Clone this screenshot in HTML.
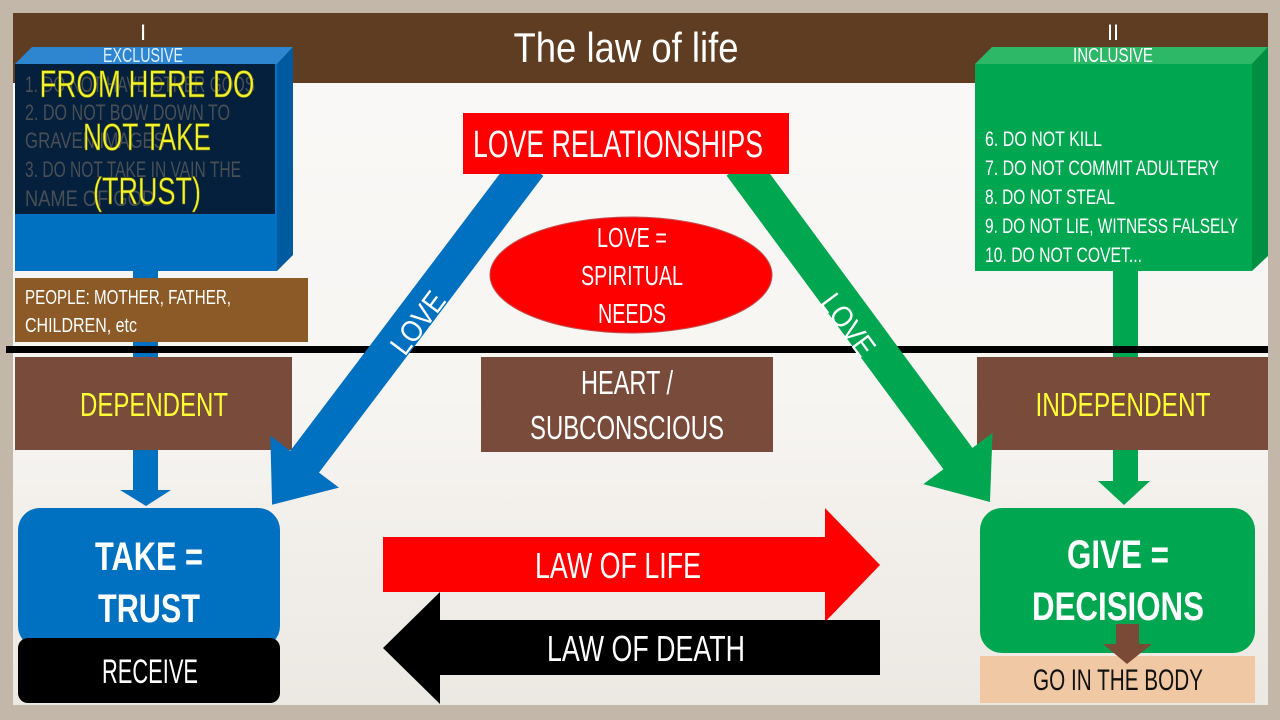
<!DOCTYPE html>
<html><head><meta charset="utf-8"><style>
html,body{margin:0;padding:0;background:#c8bdb2}
svg{display:block}
text{font-family:"Liberation Sans Narrow","Liberation Sans",sans-serif}
</style></head><body>
<svg width="1280" height="720" viewBox="0 0 1280 720" xmlns="http://www.w3.org/2000/svg">
<defs>
<linearGradient id="bg" x1="0" y1="0" x2="0" y2="1">
<stop offset="0" stop-color="#faf9f7"/><stop offset="0.55" stop-color="#f7f5f2"/><stop offset="1" stop-color="#ece8e2"/>
</linearGradient>
</defs>
<rect x="0" y="0" width="1280" height="720" fill="#c3b7aa"/>
<rect x="13" y="13" width="1255" height="692" fill="url(#bg)"/>
<rect x="13" y="13" width="1255" height="70" fill="#5e3d22"/>
<text x="626" y="62" font-size="42" fill="#fff" text-anchor="middle" textLength="225" lengthAdjust="spacingAndGlyphs">The law of life</text>
<text x="143" y="40" font-size="22" fill="#fff" text-anchor="middle">I</text>
<text x="1113" y="40" font-size="22" fill="#fff" text-anchor="middle" textLength="12" lengthAdjust="spacingAndGlyphs">II</text>

<!-- left blue box -->
<rect x="133" y="268" width="25" height="90" fill="#0070c0"/>
<polygon points="15,64 32,47 293,47 277,64" fill="#2e86d0"/>
<polygon points="277,64 293,47 293,255 277,271" fill="#005aa0"/>
<rect x="15" y="64" width="262" height="207" fill="#0070c0"/>
<rect x="15" y="64" width="260" height="150" fill="#04203d"/>
<text x="143" y="62" font-size="20" fill="#dff0ff" text-anchor="middle" textLength="80" lengthAdjust="spacingAndGlyphs">EXCLUSIVE</text>
<g font-size="22" fill="#4a4f55">
<text x="25" y="92" textLength="230" lengthAdjust="spacingAndGlyphs">1. DO NOT HAVE OTHER GODS</text>
<text x="25" y="120" textLength="205" lengthAdjust="spacingAndGlyphs">2. DO NOT BOW DOWN TO</text>
<text x="25" y="148" textLength="140" lengthAdjust="spacingAndGlyphs">GRAVEN IMAGES</text>
<text x="25" y="177" textLength="216" lengthAdjust="spacingAndGlyphs">3. DO NOT TAKE IN VAIN THE</text>
<text x="25" y="206" textLength="130" lengthAdjust="spacingAndGlyphs">NAME OF GOD</text>
</g>
<g font-size="38" fill="#f2f230" stroke="#7a7a00" stroke-width="0.6" text-anchor="middle">
<text x="147" y="97" textLength="215" lengthAdjust="spacingAndGlyphs">FROM HERE DO</text>
<text x="147" y="150" textLength="128" lengthAdjust="spacingAndGlyphs">NOT TAKE</text>
<text x="147" y="204" textLength="108" lengthAdjust="spacingAndGlyphs">(TRUST)</text>
</g>
<rect x="15" y="278" width="293" height="64" fill="#8b5a27"/>
<text x="25" y="304" font-size="20" fill="#fff" textLength="206" lengthAdjust="spacingAndGlyphs">PEOPLE: MOTHER, FATHER,</text>
<text x="25" y="332" font-size="20" fill="#fff" textLength="112" lengthAdjust="spacingAndGlyphs">CHILDREN, etc</text>

<!-- right green box -->
<rect x="1113" y="268" width="25" height="90" fill="#00a650"/>
<polygon points="975,64 992,47 1268,47 1252,64" fill="#2cb866"/>
<polygon points="1252,64 1268,47 1268,256 1252,271" fill="#008f42"/>
<rect x="975" y="64" width="277" height="207" fill="#00a650"/>
<text x="1113" y="62" font-size="20" fill="#fff" text-anchor="middle" textLength="80" lengthAdjust="spacingAndGlyphs">INCLUSIVE</text>
<g font-size="21" fill="#fff">
<text x="985" y="146" textLength="117" lengthAdjust="spacingAndGlyphs">6. DO NOT KILL</text>
<text x="985" y="175" textLength="234" lengthAdjust="spacingAndGlyphs">7. DO NOT COMMIT ADULTERY</text>
<text x="985" y="204" textLength="130" lengthAdjust="spacingAndGlyphs">8. DO NOT STEAL</text>
<text x="985" y="233" textLength="253" lengthAdjust="spacingAndGlyphs">9. DO NOT LIE, WITNESS FALSELY</text>
<text x="985" y="262" textLength="157" lengthAdjust="spacingAndGlyphs">10. DO NOT COVET...</text>
</g>

<!-- horizontal line -->
<rect x="6" y="346" width="1262" height="7" fill="#000"/>

<!-- brown row -->
<rect x="15" y="357" width="277" height="93" fill="#784b3a"/>
<text x="154" y="416" font-size="33" fill="#ffff33" text-anchor="middle" textLength="148" lengthAdjust="spacingAndGlyphs">DEPENDENT</text>
<rect x="481" y="357" width="292" height="95" fill="#784b3a"/>
<text x="627" y="394" font-size="33" fill="#fff" text-anchor="middle" textLength="92" lengthAdjust="spacingAndGlyphs">HEART /</text>
<text x="627" y="439" font-size="33" fill="#fff" text-anchor="middle" textLength="194" lengthAdjust="spacingAndGlyphs">SUBCONSCIOUS</text>
<rect x="977" y="357" width="291" height="93" fill="#784b3a"/>
<text x="1123" y="416" font-size="33" fill="#ffff33" text-anchor="middle" textLength="175" lengthAdjust="spacingAndGlyphs">INDEPENDENT</text>

<!-- vertical down arrows -->
<rect x="133" y="450" width="25" height="42" fill="#0070c0"/>
<polygon points="120,490 171,490 146,506" fill="#0070c0"/>
<rect x="1113" y="450" width="25" height="32" fill="#00a650"/>
<polygon points="1098,481 1150,481 1124,505" fill="#00a650"/>

<!-- diagonal arrows -->
<g transform="translate(523,173) rotate(127.1)">
<polygon points="-10,-18 362,-18 362,-43 416,0 362,43 362,18 -10,18" fill="#0070c0"/>
</g>
<g transform="translate(747,173) rotate(53.55)">
<polygon points="-10,-18 355,-18 355,-43 409,0 355,43 355,18 -10,18" fill="#00a650"/>
</g>
<text transform="translate(418,323) rotate(-53)" font-size="30" fill="#fff" text-anchor="middle" textLength="70" lengthAdjust="spacingAndGlyphs" dy="10">LOVE</text>
<text transform="translate(848,325) rotate(53.5)" font-size="30" fill="#fff" text-anchor="middle" textLength="70" lengthAdjust="spacingAndGlyphs" dy="10">LOVE</text>

<!-- LOVE RELATIONSHIPS (on top of arrows) -->
<rect x="463" y="113" width="326" height="61" fill="#ff0000"/>
<text x="618" y="157" font-size="38" fill="#fff" text-anchor="middle" textLength="290" lengthAdjust="spacingAndGlyphs">LOVE RELATIONSHIPS</text>

<!-- ellipse -->
<ellipse cx="631" cy="275" rx="141" ry="58" fill="#ff0000" stroke="#c05050" stroke-width="1"/>
<text x="632" y="247" font-size="28" fill="#fff" text-anchor="middle" textLength="70" lengthAdjust="spacingAndGlyphs">LOVE =</text>
<text x="632" y="285" font-size="28" fill="#fff" text-anchor="middle" textLength="102" lengthAdjust="spacingAndGlyphs">SPIRITUAL</text>
<text x="632" y="323" font-size="28" fill="#fff" text-anchor="middle" textLength="68" lengthAdjust="spacingAndGlyphs">NEEDS</text>

<!-- TAKE box -->
<rect x="18" y="508" width="262" height="140" rx="22" fill="#0070c0"/>
<text x="149" y="570" font-size="40" font-weight="bold" fill="#fff" text-anchor="middle" textLength="108" lengthAdjust="spacingAndGlyphs">TAKE =</text>
<text x="149" y="622" font-size="40" font-weight="bold" fill="#fff" text-anchor="middle" textLength="102" lengthAdjust="spacingAndGlyphs">TRUST</text>
<rect x="18" y="638" width="262" height="65" rx="10" fill="#000"/>
<text x="150" y="683" font-size="34" fill="#fff" text-anchor="middle" textLength="96" lengthAdjust="spacingAndGlyphs">RECEIVE</text>

<!-- GIVE box -->
<rect x="980" y="508" width="275" height="145" rx="22" fill="#00a650"/>
<text x="1118" y="568" font-size="40" font-weight="bold" fill="#fff" text-anchor="middle" textLength="102" lengthAdjust="spacingAndGlyphs">GIVE =</text>
<text x="1118" y="620" font-size="40" font-weight="bold" fill="#fff" text-anchor="middle" textLength="172" lengthAdjust="spacingAndGlyphs">DECISIONS</text>
<rect x="980" y="656" width="275" height="47" fill="#f0c8a4"/>
<text x="1118" y="690" font-size="30" fill="#111" text-anchor="middle" textLength="170" lengthAdjust="spacingAndGlyphs">GO IN THE BODY</text>
<rect x="1116" y="624" width="23" height="20" fill="#7a4a36"/>
<polygon points="1103,644 1152,644 1127,664" fill="#7a4a36"/>

<!-- law arrows -->
<polygon points="383,537 825,537 825,508 880,565 825,622 825,592 383,592" fill="#ff0000"/>
<text x="618" y="578" font-size="36" fill="#fff" text-anchor="middle" textLength="166" lengthAdjust="spacingAndGlyphs">LAW OF LIFE</text>
<polygon points="880,620 440,620 440,592 383,648 440,704 440,675 880,675" fill="#000"/>
<text x="646" y="661" font-size="36" fill="#fff" text-anchor="middle" textLength="198" lengthAdjust="spacingAndGlyphs">LAW OF DEATH</text>
</svg>
</body></html>
